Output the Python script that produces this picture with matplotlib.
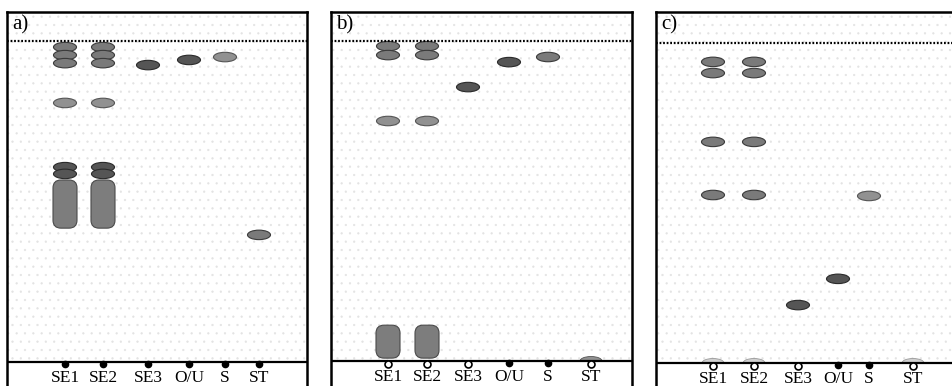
import matplotlib
matplotlib.use("Agg")
import matplotlib.pyplot as plt
from matplotlib.patches import Ellipse, FancyBboxPatch, Rectangle

# ---------------- data ----------------
lanes = ["SE1", "SE2", "SE3", "O/U", "S", "ST"]
panel_labels = ["a)", "b)", "c)"]

# spot lists per panel: lane, Rf centre, tone ('d' dark, 'm' medium, 'l' light)
a_spot_lane = ["SE1", "SE1", "SE1", "SE1", "SE1", "SE1",
               "SE2", "SE2", "SE2", "SE2", "SE2", "SE2",
               "SE3", "O/U", "S", "ST"]
a_spot_rf = [0.981, 0.956, 0.931, 0.807, 0.607, 0.586,
             0.981, 0.956, 0.931, 0.807, 0.607, 0.586,
             0.925, 0.941, 0.950, 0.396]
a_spot_tone = ["m", "m", "m", "l", "d", "d",
               "m", "m", "m", "l", "d", "d",
               "d", "d", "l", "m"]
# streaks (elongated zones): lane, Rf low, Rf high
a_streak_lane = ["SE1", "SE2"]
a_streak_lo = [0.417, 0.417]
a_streak_hi = [0.567, 0.567]
a_faint_lane = []
a_faint_tone = []
a_open_lanes = []

b_spot_lane = ["SE1", "SE1", "SE1", "SE2", "SE2", "SE2", "SE3", "O/U", "S"]
b_spot_rf = [0.984, 0.956, 0.750, 0.984, 0.956, 0.750, 0.856, 0.934, 0.950]
b_spot_tone = ["m", "m", "l", "m", "m", "l", "d", "d", "m"]
b_streak_lane = ["SE1", "SE2"]
b_streak_lo = [0.009, 0.009]
b_streak_hi = [0.112, 0.112]
b_faint_lane = ["ST"]
b_faint_tone = ["l"]
b_open_lanes = ["SE1", "SE2", "SE3", "ST"]

c_spot_lane = ["SE1", "SE1", "SE1", "SE1", "SE2", "SE2", "SE2", "SE2",
               "SE3", "O/U", "S"]
c_spot_rf = [0.941, 0.906, 0.691, 0.525, 0.941, 0.906, 0.691, 0.525,
             0.181, 0.263, 0.522]
c_spot_tone = ["m", "m", "m", "m", "m", "m", "m", "m", "d", "d", "l"]
c_streak_lane = []
c_streak_lo = []
c_streak_hi = []
c_faint_lane = ["SE1", "SE2", "ST"]
c_faint_tone = ["f", "f", "f"]
c_open_lanes = ["SE1", "SE2", "SE3", "ST"]

# ---------------- layout (pixels) ----------------
W, H = 952, 386
# left, right, top, bottom(beyond), front, baseline
geo = [
    (7, 307, 12, 400, 41, 362),
    (331, 632, 12, 400, 41, 361),
    (656, 957, 12, 400, 43, 363),
]
lane_px = [
    [58, 96, 141, 182, 218, 252],
    [57, 96, 137, 178, 217, 260],
    [57, 98, 142, 182, 213, 257],
]
tones = {"d": ("#555555", "#2a2a2a"),
         "m": ("#7a7a7a", "#3a3a3a"),
         "l": ("#919191", "#555555"),
         "f": ("#d0d0d0", "#9a9a9a")}

panels = [
    (a_spot_lane, a_spot_rf, a_spot_tone, a_streak_lane, a_streak_lo, a_streak_hi, a_faint_lane, a_faint_tone, a_open_lanes),
    (b_spot_lane, b_spot_rf, b_spot_tone, b_streak_lane, b_streak_lo, b_streak_hi, b_faint_lane, b_faint_tone, b_open_lanes),
    (c_spot_lane, c_spot_rf, c_spot_tone, c_streak_lane, c_streak_lo, c_streak_hi, c_faint_lane, c_faint_tone, c_open_lanes),
]

plt.rcParams["hatch.linewidth"] = 0.4
fig = plt.figure(figsize=(W / 100, H / 100), dpi=100)
fig.patch.set_facecolor("white")

serif = ["Liberation Serif", "DejaVu Serif"]

for k, (g, lx, p) in enumerate(zip(geo, lane_px, panels)):
    left, right, top, bottom, front, base = g
    span = base - front
    ax = fig.add_axes([left / W, 1 - bottom / H, (right - left) / W, (bottom - top) / H])
    ax.set_xlim(0, right - left)
    ax.set_ylim((base - bottom) / span, (base - top) / span)
    ax.set_xticks([])
    ax.set_yticks([])
    for s in ax.spines.values():
        s.set_linewidth(1.8)
        s.set_color("black")
    px = 1.0 / span  # one pixel in Rf units
    xpos = dict(zip(lanes, lx))

    spot_lane, spot_rf, spot_tone, st_lane, st_lo, st_hi, faint_lane, faint_tone, open_lanes = p

    # stippled plate background
    ax.add_patch(Rectangle((0, 0), right - left, (base - top) / span, facecolor="none",
                           edgecolor="#e3e3e3", hatch="..", linewidth=0, zorder=0))

    # solvent front
    ax.plot([0, right - left], [1, 1], color="black", lw=1.6, ls=(0, (0.8, 0.8)), zorder=3)

    # streaks
    for ln, lo, hi in zip(st_lane, st_lo, st_hi):
        w = 24
        ax.add_patch(FancyBboxPatch((xpos[ln] - w / 2, lo), w, hi - lo,
                                    boxstyle="round,pad=0,rounding_size=8",
                                    mutation_aspect=px,
                                    facecolor="#7d7d7d", edgecolor="#4a4a4a", lw=0.8, zorder=2))
    # spots
    for ln, rf, t in zip(spot_lane, spot_rf, spot_tone):
        fc, ec = tones[t]
        ax.add_patch(Ellipse((xpos[ln], rf), 23, 9.5 * px, facecolor=fc, edgecolor=ec,
                             lw=0.8, zorder=2))
    # faint spots at origin
    for ln, t in zip(faint_lane, faint_tone):
        fc, ec = tones[t]
        ax.add_patch(Ellipse((xpos[ln], 0), 22, 9 * px, facecolor=fc,
                             edgecolor=ec, lw=0.6, zorder=2))

    # white area below baseline
    ax.add_patch(Rectangle((0, (base - bottom) / span), right - left, -(base - bottom) / span,
                           facecolor="white", edgecolor="none", zorder=2.5))
    # baseline
    ax.plot([0, right - left], [0, 0], color="black", lw=1.6, zorder=3)

    # lane origin markers and labels
    for ln in lanes:
        if ln in open_lanes:
            ax.plot(xpos[ln], -3 * px, marker="o", ms=5, mfc="white", mec="black",
                    mew=1.2, zorder=4)
        else:
            ax.plot(xpos[ln], -2.0 * px, marker="o", ms=4.5, mfc="black", mec="black",
                    zorder=4)
        ax.text(xpos[ln], -16 * px, ln, ha="center", va="center", fontsize=12.5,
                family=serif, zorder=4)

    ax.text(5, (base - 25) / span, panel_labels[k], ha="left", va="center",
            fontsize=15, family=serif, zorder=4)

fig.savefig("out.png", dpi=100, facecolor="white")
